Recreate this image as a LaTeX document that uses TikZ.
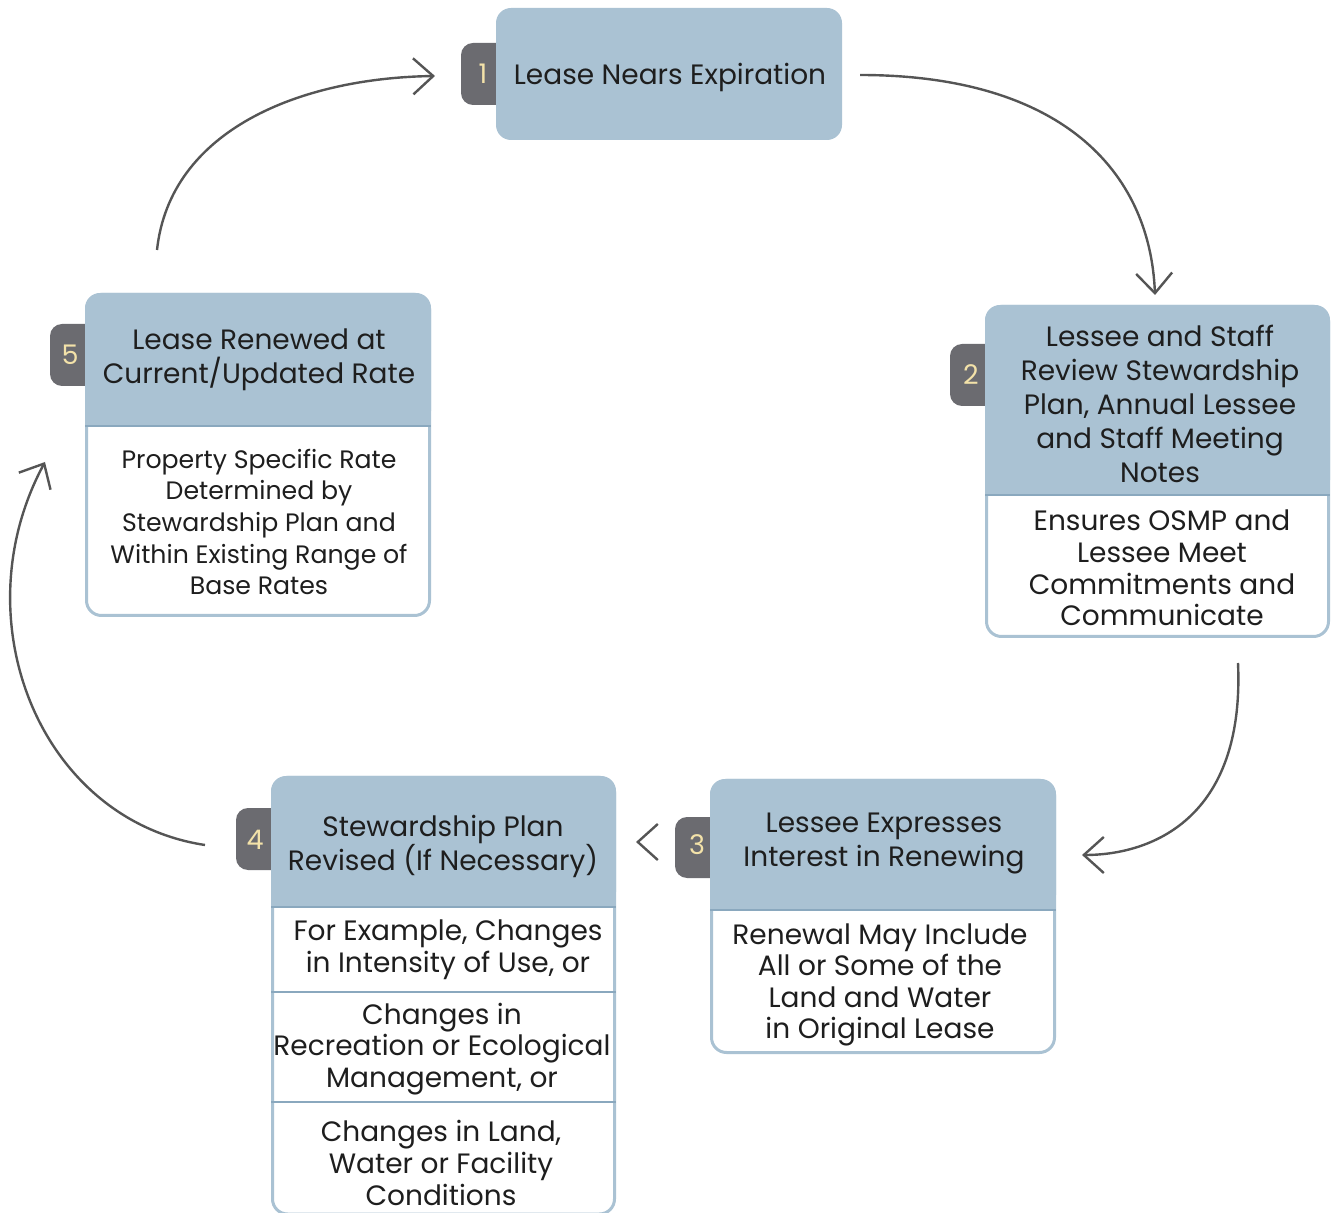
\documentclass[tikz,border=0pt]{standalone}
\usepackage{fontspec}
\setmainfont{Poppins}
\usetikzlibrary{arrows.meta}
\definecolor{hdrblue}{HTML}{AAC2D3}
\definecolor{divblue}{HTML}{8AA8BE}
\definecolor{tabgray}{HTML}{6B6B70}
\definecolor{numcream}{HTML}{F3E2A9}
\definecolor{arrowgray}{HTML}{555555}
\definecolor{txt}{HTML}{1E1E1E}
\tikzset{
  hdrtext/.style={align=center, text=txt, inner sep=0pt, font=\fontsize{14}{17}\selectfont},
  bodytext/.style={align=center, text=txt, inner sep=0pt, font=\fontsize{14}{15.8}\selectfont},
  numtext/.style={text=numcream, inner sep=0pt, font=\fontsize{13.5}{16}\selectfont},
  flow/.style={draw=arrowgray, line width=1.2pt, -{Straight Barb[length=10pt,width=18pt]}},
  boxline/.style={fill=white, draw=hdrblue, line width=1.5pt, rounded corners=7.5pt},
}
\begin{document}
\begin{tikzpicture}[x=0.5pt, y=-0.5pt]
  \useasboundingbox (0,0) rectangle (1334,1213);
  %step 1
    \fill[tabgray, rounded corners=6pt] (461,43) rectangle (510,105);
    \fill[hdrblue, rounded corners=7.5pt] (496,8) rectangle (842,140);
    \node[numtext] (n1) at (483,74) {1};
    \node[hdrtext] (h1) at (670,77) {Lease Nears Expiration};

  %step 2
    \fill[tabgray, rounded corners=6pt] (950,344) rectangle (1000,406);
    \draw[boxline] (986.5,306.5) rectangle (1328.5,636.5);
    \fill[hdrblue, rounded corners=7.5pt] (985,305) rectangle (1330,495);
    \fill[hdrblue] (985,470) rectangle (1330,495);
    \draw[divblue, line width=1.2pt] (985,495) -- (1330,495);
    \node[numtext] (n2) at (971,375) {2};
    \node[hdrtext] (h2) at (1160,404) {Lessee and Staff\\Review Stewardship\\Plan, Annual Lessee\\and Staff Meeting\\Notes};
    \node[bodytext] (b2) at (1162,568) {Ensures OSMP and\\Lessee Meet\\Commitments and\\Communicate};

  %step 3
    \fill[tabgray, rounded corners=6pt] (675,817) rectangle (725,878);
    \draw[boxline] (711.5,780.5) rectangle (1054.5,1052.5);
    \fill[hdrblue, rounded corners=7.5pt] (710,779) rectangle (1056,910);
    \fill[hdrblue] (710,885) rectangle (1056,910);
    \draw[divblue, line width=1.2pt] (710,910) -- (1056,910);
    \node[numtext] (n3) at (697,845) {3};
    \node[hdrtext] (h3) at (884,844) {Lessee Expresses\\Interest in Renewing};
    \node[bodytext] (b3) at (880,985) {Renewal May Include\\All or Some of the\\Land and Water\\in Original Lease};

  %step 4
    \fill[tabgray, rounded corners=6pt] (236,808) rectangle (285,870);
    \draw[boxline] (272.5,777.5) rectangle (614.5,1214);
    \fill[hdrblue, rounded corners=7.5pt] (271,776) rectangle (616,907);
    \fill[hdrblue] (271,880) rectangle (616,907);
    \draw[divblue, line width=1.2pt] (271,907) -- (616,907);
    \draw[divblue, line width=1.2pt] (271,992) -- (616,992);
    \draw[divblue, line width=1.2pt] (271,1102) -- (616,1102);
    \node[numtext] (n4) at (255,840) {4};
    \node[hdrtext] (h4) at (443,846) {Stewardship Plan\\Revised (If Necessary)};
    \node[bodytext] (b4a) at (448,950) {For Example, Changes\\in Intensity of Use, or};
    \node[bodytext] (b4b) at (442,1049) {Changes in\\Recreation or Ecological\\Management, or};
    \node[bodytext] (b4c) at (441,1163) {Changes in Land,\\Water or Facility\\Conditions};

  %step 5
    \fill[tabgray, rounded corners=6pt] (50,324) rectangle (100,386);
    \draw[boxline] (86.5,294.5) rectangle (429.5,615.5);
    \fill[hdrblue, rounded corners=7.5pt] (85,293) rectangle (431,426);
    \fill[hdrblue] (85,400) rectangle (431,426);
    \draw[divblue, line width=1.2pt] (85,426) -- (431,426);
    \node[numtext] (n5) at (70,355) {5};
    \node[hdrtext] (h5) at (259,360) {Lease Renewed at\\Current/Updated Rate};
    \node[bodytext, font=\fontsize{12.6}{15.8}\selectfont] (b5) at (259,522) {Property Specific Rate\\Determined by\\Stewardship Plan and\\Within Existing Range of\\Base Rates};

  %arrows
    \coordinate (a1s) at (860,75);
    \coordinate (a1e) at (1155,295);
    \coordinate (a2s) at (1238,663);
    \coordinate (a2e) at (1082,855);
    \coordinate (a3s) at (638,842);
    \coordinate (a3e) at (636,842);
    \coordinate (a4s) at (205,845);
    \coordinate (a4e) at (45,462);
    \coordinate (a5s) at (157,250);
    \coordinate (a5e) at (435,76);
    \draw[flow] (a1s) .. controls (1060,75) and (1150,170) .. (a1e);
    \draw[flow] (a2s) .. controls (1245,820) and (1150,855) .. (a2e);
    \draw[flow] (a3s) -- (a3e);
    \draw[flow] (a4s) .. controls (40,820) and (-40,620) .. (a4e);
    \draw[flow] (a5s) .. controls (170,130) and (300,78) .. (a5e);
\end{tikzpicture}
\end{document}
